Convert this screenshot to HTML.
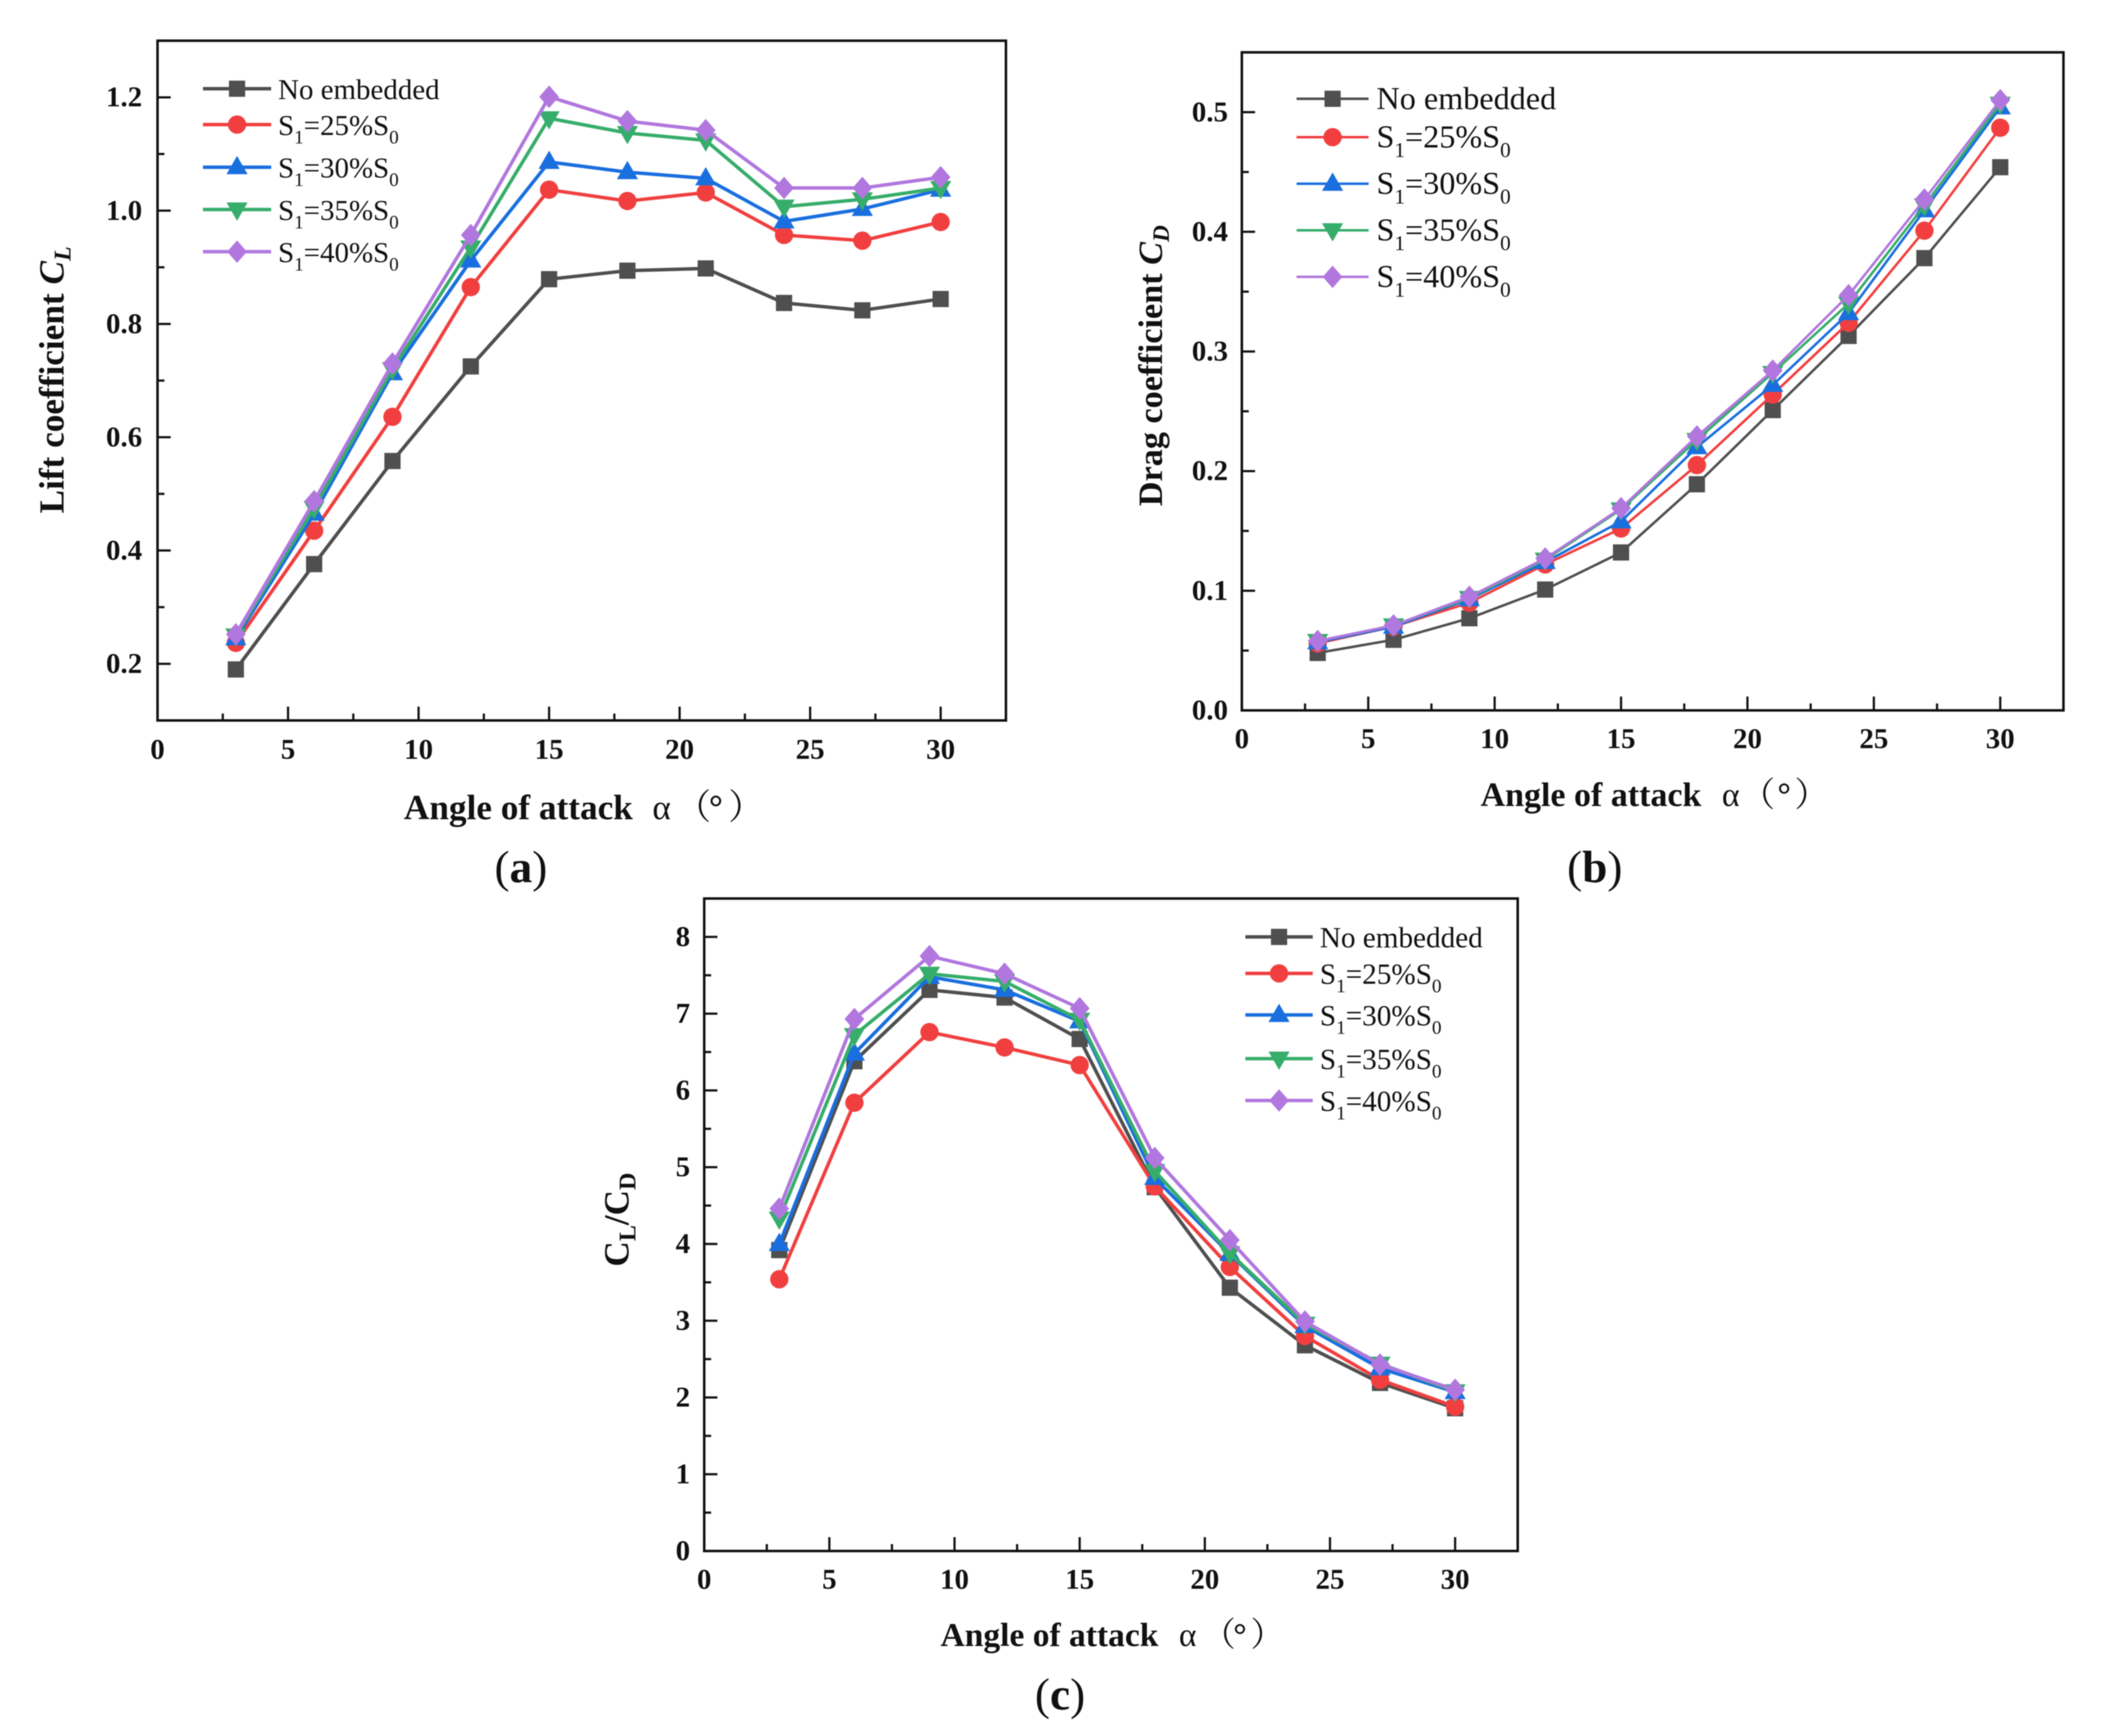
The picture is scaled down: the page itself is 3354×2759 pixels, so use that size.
<!DOCTYPE html>
<html lang="en">
<head>
<meta charset="utf-8">
<title>Aerodynamic coefficients vs angle of attack</title>
<style>
html,body{margin:0;padding:0;background:#fff;}
#figure{display:block;width:3354px;height:2759px;filter:blur(0.8px);}
text{font-family:"Liberation Serif","Noto Serif CJK SC",serif;fill:#111;}
</style>
</head>
<body>
<svg id="figure" xmlns="http://www.w3.org/2000/svg" width="3354" height="2759" viewBox="0 0 3354 2759">
<rect x="0" y="0" width="3354" height="2759" fill="#fff"/>
<text x="786" y="1402" font-size="72">(<tspan font-weight="bold">a</tspan>)</text>
<text x="2491" y="1402" font-size="72">(<tspan font-weight="bold">b</tspan>)</text>
<text x="1645" y="2717" font-size="72">(<tspan font-weight="bold">c</tspan>)</text>
</svg>
<script>
const angles = [3, 6, 9, 12, 15, 18, 21, 24, 27, 30];
const seriesNames = ['no-embedded', 's1-25', 's1-30', 's1-35', 's1-40'];
const seriesLabels = [['No embedded'], ['S', '1', '=25%S', '0'], ['S', '1', '=30%S', '0'], ['S', '1', '=35%S', '0'], ['S', '1', '=40%S', '0']];

const liftNone = [0.19, 0.376, 0.558, 0.725, 0.879, 0.894, 0.898, 0.837, 0.824, 0.844];
const lift25 = [0.237, 0.435, 0.636, 0.865, 1.037, 1.017, 1.032, 0.957, 0.947, 0.98];
const lift30 = [0.245, 0.465, 0.713, 0.912, 1.086, 1.068, 1.057, 0.981, 1.003, 1.037];
const lift35 = [0.25, 0.475, 0.72, 0.935, 1.163, 1.137, 1.124, 1.007, 1.02, 1.04];
const lift40 = [0.252, 0.487, 0.73, 0.957, 1.201, 1.158, 1.142, 1.04, 1.04, 1.059];

const dragNone = [0.048, 0.059, 0.077, 0.101, 0.132, 0.189, 0.251, 0.313, 0.378, 0.454];
const drag25 = [0.056, 0.07, 0.09, 0.122, 0.152, 0.205, 0.264, 0.324, 0.401, 0.487];
const drag30 = [0.057, 0.07, 0.093, 0.124, 0.158, 0.22, 0.272, 0.332, 0.418, 0.504];
const drag35 = [0.058, 0.071, 0.094, 0.126, 0.168, 0.226, 0.282, 0.34, 0.422, 0.507];
const drag40 = [0.058, 0.071, 0.095, 0.127, 0.169, 0.229, 0.284, 0.347, 0.427, 0.51];

const ratioNone = [3.92, 6.38, 7.31, 7.21, 6.67, 4.74, 3.43, 2.68, 2.19, 1.86];
const ratio25 = [3.54, 5.84, 6.76, 6.56, 6.33, 4.75, 3.7, 2.8, 2.23, 1.88];
const ratio30 = [4.0, 6.48, 7.48, 7.31, 6.9, 4.86, 3.87, 2.93, 2.38, 2.07];
const ratio35 = [4.33, 6.72, 7.52, 7.42, 6.92, 4.95, 3.88, 2.96, 2.44, 2.08];
const ratio40 = [4.46, 6.93, 7.75, 7.52, 7.07, 5.12, 4.05, 2.99, 2.43, 2.1];

const xTickLabels = ['0', '5', '10', '15', '20', '25', '30'];
const liftTickLabels = ['0.2', '0.4', '0.6', '0.8', '1.0', '1.2'];
const dragTickLabels = ['0.0', '0.1', '0.2', '0.3', '0.4', '0.5'];
const ratioTickLabels = ['0', '1', '2', '3', '4', '5', '6', '7', '8'];

const colors = ['#4f4f4f', '#f13f3f', '#1a6fdf', '#37ad6b', '#b177de'];
const svgNS = 'http://www.w3.org/2000/svg';
const root = document.getElementById('figure');

function make(tag, parent, attrs) {
  const node = document.createElementNS(svgNS, tag);
  for (const k in attrs) node.setAttribute(k, attrs[k]);
  parent.appendChild(node);
  return node;
}

function drawMarker(parent, kind, cx, cy, color, s) {
  let m;
  if (kind === 0) {
    const h = 11.5 * s;
    m = make('rect', parent, {x: cx - h, y: cy - h, width: 2 * h, height: 2 * h, fill: color});
  } else if (kind === 1) {
    m = make('circle', parent, {cx: cx, cy: cy, r: 13 * s, fill: color});
  } else if (kind === 2) {
    m = make('polygon', parent, {points: [[cx, cy - 16 * s], [cx + 15 * s, cy + 10 * s], [cx - 15 * s, cy + 10 * s]].join(' '), fill: color});
  } else if (kind === 3) {
    m = make('polygon', parent, {points: [[cx, cy + 16 * s], [cx + 15 * s, cy - 10 * s], [cx - 15 * s, cy - 10 * s]].join(' '), fill: color});
  } else {
    m = make('polygon', parent, {points: [[cx, cy - 16 * s], [cx + 14 * s, cy], [cx, cy + 16 * s], [cx - 14 * s, cy]].join(' '), fill: color});
  }
  return m;
}

function drawPanel(p) {
  const g = make('g', root, {});
  
  

  const xScale = v => p.left + (v - p.xMin) / (p.xMax - p.xMin) * (p.right - p.left);
  const yScale = v => p.bottom - (v - p.yMin) / (p.yMax - p.yMin) * (p.bottom - p.top);

  const frame = make('rect', g, {x: p.left, y: p.top, width: p.right - p.left, height: p.bottom - p.top, fill: 'none', stroke: '#111', 'stroke-width': p.frame});
  
  

  // x axis ticks
  for (let v = 0; v <= p.xMax; v += 2.5) {
    const isMajor = v % 5 === 0;
    const len = isMajor ? 22 : 11;
    const t = make('line', g, {x1: xScale(v), x2: xScale(v), y1: p.bottom, y2: p.bottom - len, stroke: '#111', 'stroke-width': 3.5});
    
    
  }
  xTickLabels.forEach(label => {
    const t = make('text', g, {x: xScale(+label), y: p.xLabelY, 'font-size': p.tickFont, 'font-weight': 'bold', 'text-anchor': 'middle'});
    t.textContent = label;
    
    
  });

  // y axis ticks
  p.yLabels.forEach(label => {
    const v = +label;
    const t = make('line', g, {x1: p.left, x2: p.left + 21, y1: yScale(v), y2: yScale(v), stroke: '#111', 'stroke-width': 3.5});
    
    
    const l = make('text', g, {x: p.yLabelX, y: yScale(v) + 14.5, 'font-size': p.tickFont, 'font-weight': 'bold', 'text-anchor': 'end'});
    l.textContent = label;
    
    
  });
  const step = +p.yLabels[1] - +p.yLabels[0];
  for (let i = 0; i < p.yLabels.length; i++) {
    const v = +p.yLabels[i] + step / 2;
    if (v > p.yMax) continue;
    const t = make('line', g, {x1: p.left, x2: p.left + 11, y1: yScale(v), y2: yScale(v), stroke: '#111', 'stroke-width': 3.5});
    
    
  }
  if (+p.yLabels[0] - step / 2 > p.yMin) {
    const v0 = +p.yLabels[0] - step / 2;
    const t0 = make('line', g, {x1: p.left, x2: p.left + 11, y1: yScale(v0), y2: yScale(v0), stroke: '#111', 'stroke-width': 3.5});
    
    
  }

  // series
  p.series.forEach((values, si) => {
    const sg = make('g', g, {});
    
    
    const pts = values.map((v, i) => xScale(angles[i]).toFixed(1) + ',' + yScale(v).toFixed(1)).join(' ');
    const line = make('polyline', sg, {points: pts, fill: 'none', stroke: colors[si], 'stroke-width': p.lineWidth, 'stroke-linejoin': 'round'});
    
    
    values.forEach((v, i) => {
      const m = drawMarker(sg, si, xScale(angles[i]), yScale(v), colors[si], p.markerScale);
      
      
    });
  });

  // legend
  const lg = make('g', g, {});
  
  
  p.legendY.forEach((ly, si) => {
    const entry = make('g', lg, {});
    
    
    make('line', entry, {x1: p.legendX1, x2: p.legendX2, y1: ly, y2: ly, stroke: colors[si], 'stroke-width': p.lineWidth});
    drawMarker(entry, si, (p.legendX1 + p.legendX2) / 2, ly, colors[si], p.markerScale);
    const t = make('text', entry, {x: p.legendTextX, y: ly + 16.5, 'font-size': p.legendFont, fill: '#222'});
    seriesLabels[si].forEach((part, j) => {
      const isSub = j % 2 === 1;
      const ts = make('tspan', t, {});
      if (isSub) {
        ts.setAttribute('font-size', p.legendFont * 0.66);
        ts.setAttribute('dy', p.legendFont * 0.29);
      } else if (j > 0) {
        ts.setAttribute('dy', -p.legendFont * 0.29);
      }
      ts.textContent = part;
    });
  });

  // x title
  const xt = make('text', g, {x: p.xTitle.x, y: p.xTitle.y, 'font-size': p.xTitle.font, 'font-weight': 'bold'});
  
  
  const a1 = make('tspan', xt, {}); a1.textContent = 'Angle of attack ';
  const a2 = make('tspan', xt, {x: p.xTitle.alpha, 'font-weight': 'normal'}); a2.textContent = 'α';
  const a3 = make('tspan', xt, {x: p.xTitle.parenL - 0.6 * p.xTitle.font, 'font-weight': 'normal'}); a3.textContent = '（';
  const a4 = make('tspan', xt, {x: p.xTitle.deg - 0.2 * p.xTitle.font, 'font-weight': 'bold'}); a4.textContent = '°';
  const a5 = make('tspan', xt, {x: p.xTitle.parenR - 0.4 * p.xTitle.font, 'font-weight': 'normal'}); a5.textContent = '）';

  // y title
  const yt = make('text', g, {x: p.yTitle.x, y: p.yTitle.y, 'font-size': p.yTitle.font, 'font-weight': 'bold', transform: 'rotate(-90 ' + p.yTitle.x + ' ' + p.yTitle.y + ')'});
  
  
  p.yTitle.parts.forEach(part => {
    const ts = make('tspan', yt, {});
    if (part.italic) ts.setAttribute('font-style', 'italic');
    if (part.sub) {
      ts.setAttribute('font-size', p.yTitle.font * 0.68);
      ts.setAttribute('dy', p.yTitle.font * 0.2);
    } else if (part.up) {
      ts.setAttribute('dy', -p.yTitle.font * 0.2);
    }
    ts.textContent = part.t;
  });
}

drawPanel({
  name: 'lift', left: 250.4, right: 1599, top: 64.7, bottom: 1145, xMin: 0, xMax: 32.5, yMin: 0.1, yMax: 1.3,
  frame: 4, lineWidth: 5.5, markerScale: 1.12, tickFont: 46, yLabels: liftTickLabels, yLabelX: 226, xLabelY: 1206,
  series: [liftNone, lift25, lift30, lift35, lift40],
  legendY: [141, 198, 265.7, 333, 400], legendX1: 322.6, legendX2: 431, legendTextX: 442, legendFont: 46,
  xTitle: {x: 642, y: 1302, font: 56, alpha: 1037, parenL: 1108, deg: 1138, parenR: 1180},
  yTitle: {x: 101, y: 816, font: 56, parts: [{t: 'Lift coefficient '}, {t: 'C', italic: true}, {t: 'L', italic: true, sub: true}]}
});

drawPanel({
  name: 'drag', left: 1974, right: 3280, top: 83.2, bottom: 1129, xMin: 0, xMax: 32.5, yMin: 0, yMax: 0.55,
  frame: 4, lineWidth: 4, markerScale: 1.12, tickFont: 46, yLabels: dragTickLabels, yLabelX: 1952, xLabelY: 1189,
  series: [dragNone, drag25, drag30, drag35, drag40],
  legendY: [157, 218, 292, 366, 440], legendX1: 2061, legendX2: 2175.5, legendTextX: 2188, legendFont: 51.2,
  xTitle: {x: 2353.5, y: 1281, font: 54, alpha: 2737, parenL: 2800, deg: 2836, parenR: 2874},
  yTitle: {x: 1847, y: 804.5, font: 54.4, parts: [{t: 'Drag coefficient '}, {t: 'C', italic: true}, {t: 'D', italic: true, sub: true}]}
});

drawPanel({
  name: 'ratio', left: 1119.4, right: 2412.5, top: 1428, bottom: 2465, xMin: 0, xMax: 32.5, yMin: 0, yMax: 8.5,
  frame: 4, lineWidth: 5.5, markerScale: 1.12, tickFont: 46, yLabels: ratioTickLabels, yLabelX: 1097, xLabelY: 2525,
  series: [ratioNone, ratio25, ratio30, ratio35, ratio40],
  legendY: [1489, 1547, 1613, 1682.5, 1749], legendX1: 1979.6, legendX2: 2086.7, legendTextX: 2098, legendFont: 46.4,
  xTitle: {x: 1495, y: 2616, font: 53.3, alpha: 1874, parenL: 1943, deg: 1971, parenR: 2009},
  yTitle: {x: 999, y: 2013, font: 56, parts: [{t: 'C'}, {t: 'L', sub: true}, {t: '/C', up: true}, {t: 'D', sub: true}]}
});
</script>
</body>
</html>
